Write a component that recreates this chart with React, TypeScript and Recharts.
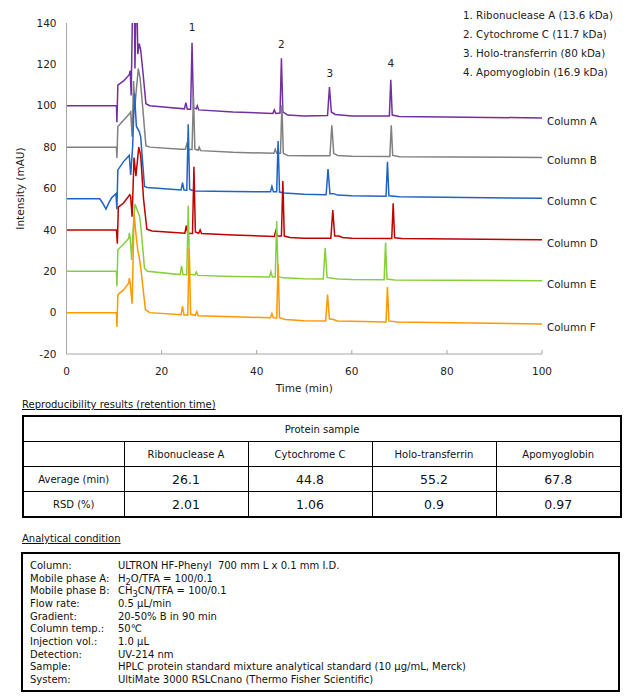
import { Label, Line, LineChart, ReferenceDot, XAxis, YAxis } from 'recharts';

// [time (min), intensity (mAU)]
const COLUMN_A = [
  [0, 100], [10.5, 100], [10.6, 92], [10.8, 110], [12, 112], [13.2, 115], [13.4, 117], [13.6, 105],
  [13.9, 150], [14.2, 170], [14.4, 118], [14.7, 165], [15.0, 125], [15.3, 130], [15.6, 127], [16.0, 118],
  [16.7, 101], [17.5, 100], [21, 99.3], [24.8, 98.5], [25.1, 101.5], [25.4, 98.3], [26.1, 98.3],
  [26.4, 130.5], [26.7, 99], [27.3, 98.5], [27.5, 100], [27.8, 98], [35, 97], [43.4, 96.3], [43.7, 98],
  [44.0, 96.3], [44.9, 96.5], [45.2, 123], [45.5, 97], [46.5, 95.5], [50, 95], [54.9, 95.3], [55.3, 109],
  [55.7, 97], [56.5, 95.8], [60, 95], [67.9, 95], [68.2, 112.6], [68.5, 95.5], [70, 94.8], [100, 94.1],
];
const COLUMN_B = [
  [0, 80], [10.5, 80], [10.6, 74.7], [10.8, 90], [12, 93], [13.2, 96], [13.5, 97], [13.8, 85],
  [14.1, 112], [14.4, 100], [14.7, 108], [15.1, 118], [15.5, 113], [16.0, 100], [16.7, 80.7], [17.5, 80],
  [24, 79], [25.0, 79], [25.3, 81.5], [25.6, 78.9], [26.4, 78.9], [26.7, 105], [27.0, 79], [27.7, 78.5],
  [27.9, 80], [28.2, 78.3], [35, 77.5], [43.6, 77], [43.9, 79], [44.2, 77], [45.0, 77], [45.3, 100.3],
  [45.6, 77], [46.5, 76], [50, 75.8], [55.4, 75.8], [55.8, 90.6], [56.2, 77], [57, 76], [60, 75.6],
  [68.0, 75.5], [68.3, 90.6], [68.6, 76], [70, 75.3], [100, 75],
];
const COLUMN_C = [
  [0, 55], [7, 55], [7.6, 53], [8.3, 50], [9.0, 53.5], [9.5, 55.5], [10.4, 57.5], [10.6, 50], [10.8, 69],
  [12, 73], [13.2, 76], [13.5, 66.5], [13.9, 80], [14.3, 106], [14.7, 90], [15.3, 87.5], [15.6, 85],
  [16.4, 61], [17, 60.5], [24.1, 59.3], [24.4, 62.8], [24.7, 59.3], [25.3, 59.2], [25.6, 91], [25.9, 59.5],
  [26.6, 59], [27, 58.8], [35, 58.5], [42.9, 58.4], [43.2, 61], [43.5, 58.4], [44.2, 58.4], [44.5, 83],
  [44.8, 58.3], [45.8, 57.8], [50, 57.2], [54.6, 57], [55.0, 69.4], [55.4, 57.5], [56.2, 57.5], [57, 56.8],
  [60, 56.5], [67.2, 56.2], [67.5, 72.9], [67.8, 56.5], [70, 56], [100, 55.3],
];
const COLUMN_D = [
  [0, 40], [10.5, 40], [10.7, 33.3], [10.9, 51], [12, 53], [13.3, 57], [13.5, 56], [13.8, 46.4],
  [14.2, 75], [14.6, 66], [15.2, 80], [15.6, 76], [16.2, 55], [16.9, 40.3], [18, 39.5], [24.9, 38.4],
  [25.2, 42], [25.5, 38.4], [26.5, 38.3], [26.8, 70.5], [27.1, 39], [27.8, 38.4], [28.1, 40], [28.4, 38.2],
  [35, 37.5], [43.7, 36.8], [44.0, 39.4], [44.3, 37], [45.2, 37], [45.5, 63.6], [45.8, 37], [47, 36.3],
  [50, 36], [55.6, 36], [56.0, 49.6], [56.4, 37], [57.3, 37], [58, 36.3], [60, 36], [68.4, 35.8],
  [68.7, 52.9], [69.0, 36.2], [70.5, 35.8], [100, 35.2],
];
const COLUMN_E = [
  [0, 20], [10.5, 20], [10.6, 12.7], [10.8, 30.4], [12, 33], [13.1, 36], [13.2, 38.5], [13.4, 36],
  [13.7, 25.5], [14.0, 40], [14.4, 52.5], [14.8, 50], [15.4, 46.3], [15.7, 40], [16.4, 21.5], [17, 20],
  [23.9, 18.4], [24.2, 22.6], [24.5, 18.4], [25.3, 18.3], [25.6, 51.6], [25.9, 18.6], [27.0, 18.2],
  [27.3, 19.6], [27.6, 18], [35, 17.5], [42.7, 17.2], [43.0, 19.8], [43.3, 17.2], [43.9, 17.2],
  [44.2, 44.3], [44.5, 17.5], [45.5, 16.8], [50, 16.4], [54.0, 16.3], [54.4, 31.2], [54.8, 17],
  [55.6, 16.7], [57, 16.2], [60, 16], [66.8, 15.9], [67.1, 33.9], [67.4, 16.2], [69, 15.8], [100, 15.4],
];
const COLUMN_F = [
  [0, 0], [10.5, 0], [10.6, -6.9], [10.8, 8.7], [12, 11], [13.1, 14.3], [13.2, 16.7], [13.4, 14],
  [13.8, 4.3], [14.0, 25], [14.2, 48], [14.6, 38], [15.0, 30], [15.3, 26.8], [15.6, 22], [16.6, 1.4],
  [17.5, 0], [24.1, -1], [24.4, 3.1], [24.7, -1], [25.5, -1.2], [25.8, 31.2], [26.1, -0.8], [27.1, -1.3],
  [27.4, 0.5], [27.7, -1.5], [35, -2], [42.9, -2.5], [43.2, -0.5], [43.5, -2.5], [44.2, -2.6],
  [44.5, 23.4], [44.8, -2.5], [46, -3.3], [50, -3.9], [54.5, -4], [54.9, 8.7], [55.3, -3], [56.1, -3.3],
  [57, -4], [60, -4.2], [67.2, -4.5], [67.5, 12.4], [67.8, -4], [69.5, -4.5], [100, -5.5],
];

const COLUMN_NAMES = ['Column A', 'Column B', 'Column C', 'Column D', 'Column E', 'Column F'];
const COLUMN_COLORS = ['#7030a0', '#808080', '#1f63c6', '#c00000', '#86cf3c', '#ff9900'];
const COLUMN_TRACES = [COLUMN_A, COLUMN_B, COLUMN_C, COLUMN_D, COLUMN_E, COLUMN_F];

const TIME_TICKS = [0, 20, 40, 60, 80, 100];
const INTENSITY_TICKS = [-20, 0, 20, 40, 60, 80, 100, 120, 140];

const PEAK_NUMBERS = ['1', '2', '3', '4'];
const PEAK_TIMES = [26.4, 45.2, 55.4, 68.2];
const PEAK_LABEL_HEIGHTS = [138, 130, 116, 120.5];

const PROTEINS = ['Ribonuclease A', 'Cytochrome C', 'Holo-transferrin', 'Apomyoglobin'];
const PROTEIN_KDA = ['13.6', '11.7', '80', '16.9'];
const AVERAGE_MIN = ['26.1', '44.8', '55.2', '67.8'];
const RSD_PERCENT = ['2.01', '1.06', '0.9', '0.97'];

const CONDITION_LABELS = [
  'Column:', 'Mobile phase A:', 'Mobile phase B:', 'Flow rate:', 'Gradient:',
  'Column temp.:', 'Injection vol.:', 'Detection:', 'Sample:', 'System:',
];
const CONDITION_VALUES = [
  <>ULTRON HF-Phenyl&nbsp; 700 mm L x 0.1 mm I.D.</>,
  <>H<sub>2</sub>O/TFA = 100/0.1</>,
  <>CH<sub>3</sub>CN/TFA = 100/0.1</>,
  <>0.5 µL/min</>,
  <>20-50% B in 90 min</>,
  <>50℃</>,
  <>1.0 µL</>,
  <>UV-214 nm</>,
  <>HPLC protein standard mixture analytical standard (10 µg/mL, Merck)</>,
  <>UltiMate 3000 RSLCnano (Thermo Fisher Scientific)</>,
];

const FONT = '"DejaVu Sans", Verdana, sans-serif';
const AXIS_GREY = '#a6a6a6';

const TimeTick = (props: any) => {
  const { x, y, payload } = props;
  return (
    <g>
      <line x1={x} x2={x} y1={y - 14} y2={y - 18} stroke={AXIS_GREY} />
      <text x={x} y={y} dy="0.71em" textAnchor="middle" fontSize={10.5} fontFamily={FONT} fill="#222">
        {payload.value}
      </text>
    </g>
  );
};

const cellBorder = '1px solid #000';
const cell: React.CSSProperties = {
  border: cellBorder,
  height: 24,
  padding: 0,
  textAlign: 'center',
  fontSize: 10,
};
const valueCell: React.CSSProperties = { ...cell, fontSize: 12.5 };

export default function App() {
  return (
    <div style={{ position: 'absolute', left: 0, top: 0, width: 630, height: 700, background: '#fff', fontFamily: FONT, color: '#111' }}>
      <LineChart width={630} height={400} margin={{ top: 23, right: 88, left: 10, bottom: 6 }}>
        <XAxis
          dataKey="t"
          type="number"
          domain={[0, 100]}
          ticks={TIME_TICKS}
          stroke={AXIS_GREY}
          tickLine={false}
          tickSize={0}
          tickMargin={14}
          tick={<TimeTick />}
          height={40}
        >
          <Label value="Time (min)" position="insideBottom" offset={2} fontSize={10.5} fontFamily={FONT} fill="#222" />
        </XAxis>
        <YAxis
          type="number"
          domain={[-20, 140]}
          ticks={INTENSITY_TICKS}
          allowDataOverflow
          width={56.5}
          stroke={AXIS_GREY}
          tickLine={false}
          tickSize={6}
          tickMargin={4}
          tick={{ fontSize: 10.5, fontFamily: FONT, fill: '#222' }}
        >
          <Label
            value="Intensity (mAU)"
            angle={-90}
            position="insideLeft"
            offset={10}
            fontSize={10.5}
            fontFamily={FONT}
            fill="#222"
            style={{ textAnchor: 'middle' }}
          />
        </YAxis>
        {COLUMN_TRACES.map((trace, i) => (
          <Line
            key={COLUMN_NAMES[i]}
            data={trace.map(([t, v]) => ({ t, v }))}
            dataKey="v"
            type="linear"
            stroke={COLUMN_COLORS[i]}
            strokeWidth={1.5}
            dot={false}
            activeDot={false}
            isAnimationActive={false}
          />
        ))}
        {COLUMN_TRACES.map((trace, i) => {
          const [t, v] = trace[trace.length - 1];
          return (
            <ReferenceDot
              key={`end-${i}`}
              x={t}
              y={v}
              r={0}
              fill="none"
              stroke="none"
              label={(p: any) => (
                <text x={p.viewBox.x + 5} y={p.viewBox.y + 3} dominantBaseline="central" fontSize={10.3} fontFamily={FONT} fill="#222">
                  {COLUMN_NAMES[i]}
                </text>
              )}
            />
          );
        })}
        {PEAK_NUMBERS.map((n, i) => (
          <ReferenceDot
            key={`peak-${n}`}
            x={PEAK_TIMES[i]}
            y={PEAK_LABEL_HEIGHTS[i]}
            r={0}
            fill="none"
            stroke="none"
            label={(p: any) => (
              <text x={p.viewBox.x} y={p.viewBox.y} textAnchor="middle" dominantBaseline="central" fontSize={10.5} fontFamily={FONT} fill="#222">
                {n}
              </text>
            )}
          />
        ))}
      </LineChart>

      <div style={{ position: 'absolute', left: 463, top: 6, fontSize: 10.3, lineHeight: '19px', color: '#222' }}>
        {PROTEINS.map((p, i) => (
          <div key={p}>{`${i + 1}. ${p} (${PROTEIN_KDA[i]} kDa)`}</div>
        ))}
      </div>

      <div style={{ position: 'absolute', left: 22, top: 399, fontSize: 10, textDecoration: 'underline' }}>
        Reproducibility results (retention time)
      </div>
      <table
        style={{
          position: 'absolute',
          left: 22,
          top: 415,
          width: 598,
          borderCollapse: 'collapse',
          border: '2px solid #000',
          tableLayout: 'fixed',
        }}
      >
        <colgroup>
          <col style={{ width: 101 }} />
          <col style={{ width: 124 }} />
          <col style={{ width: 124 }} />
          <col style={{ width: 124 }} />
          <col style={{ width: 125 }} />
        </colgroup>
        <tbody>
          <tr>
            <td colSpan={5} style={cell}>Protein sample</td>
          </tr>
          <tr>
            <td style={cell}></td>
            {PROTEINS.map((p) => (
              <td key={p} style={cell}>{p}</td>
            ))}
          </tr>
          <tr>
            <td style={cell}>Average (min)</td>
            {AVERAGE_MIN.map((v, i) => (
              <td key={i} style={valueCell}>{v}</td>
            ))}
          </tr>
          <tr>
            <td style={cell}>RSD (%)</td>
            {RSD_PERCENT.map((v, i) => (
              <td key={i} style={valueCell}>{v}</td>
            ))}
          </tr>
        </tbody>
      </table>

      <div style={{ position: 'absolute', left: 22, top: 533, fontSize: 10, textDecoration: 'underline' }}>
        Analytical condition
      </div>
      <div
        style={{
          position: 'absolute',
          left: 21,
          top: 552,
          width: 595,
          height: 136,
          border: '2px solid #000',
          fontSize: 10,
        }}
      >
        {CONDITION_LABELS.map((l, i) => (
          <div key={l} style={{ position: 'absolute', left: 7, top: 6 + i * 12.67, height: 12.67, lineHeight: '12.67px', whiteSpace: 'nowrap' }}>
            <span style={{ display: 'inline-block', width: 88 }}>{l}</span>
            <span>{CONDITION_VALUES[i]}</span>
          </div>
        ))}
      </div>
    </div>
  );
}
